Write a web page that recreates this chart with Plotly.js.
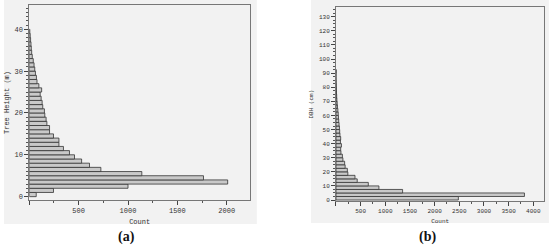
<!DOCTYPE html>
<html>
<head>
<meta charset="utf-8">
<script src="https://cdn.plot.ly/plotly-3.0.1.min.js"></script>
<style>
  html, body { margin: 0; padding: 0; background: #fff; }
  #chart { width: 550px; height: 245px; }
</style>
</head>
<body>
<div id="chart"></div>
<script>
// (a) tree height histogram, 1 m bins
const heightBins = [0.5, 1.5, 2.5, 3.5, 4.5, 5.5, 6.5, 7.5, 8.5, 9.5,
  10.5, 11.5, 12.5, 13.5, 14.5, 15.5, 16.5, 17.5, 18.5, 19.5,
  20.5, 21.5, 22.5, 23.5, 24.5, 25.5, 26.5, 27.5, 28.5, 29.5,
  30.5, 31.5, 32.5, 33.5, 34.5, 35.5, 36.5, 37.5, 38.5, 39.5];
const heightCounts = [70, 245, 1000, 2010, 1765, 1140, 725, 610, 530, 458,
  407, 346, 300, 300, 245, 205, 205, 178, 170, 157,
  153, 136, 130, 120, 110, 125, 97, 78, 72, 62,
  55, 48, 40, 30, 24, 20, 17, 13, 9, 5];

// (b) DBH histogram, 2.5 cm bins
const dbhBins = [1.25, 3.75, 6.25, 8.75, 11.25, 13.75, 16.25, 18.75, 21.25, 23.75,
  26.25, 28.75, 31.25, 33.75, 36.25, 38.75, 41.25, 43.75, 46.25, 48.75,
  51.25, 53.75, 56.25, 58.75, 61.25, 63.75, 66.25, 68.75, 71.25, 73.75,
  76.25, 78.75, 81.25, 83.75, 86.25, 88.75, 91.25];
const dbhCounts = [2480, 3820, 1350, 870, 655, 430, 385, 240, 230, 185,
  175, 140, 130, 100, 95, 110, 90, 95, 80, 75,
  70, 62, 55, 50, 45, 38, 30, 24, 18, 14,
  10, 8, 5, 2, 0, 0, 3];

const countTicks = [0, 500, 1000, 1500, 2000, 2500, 3000, 3500, 4000];
const countLabels = ["", "500", "1000", "1500", "2000", "2500", "3000", "3500", "4000"];

const smallFont = { family: "Liberation Mono, DejaVu Sans Mono, monospace", size: 7, color: "#333" };
const tinyFont = Object.assign({}, smallFont, { size: 6 });
const barStyle = { color: "#c9c9c9", line: { color: "#333", width: 0.8 } };
const panelFont = { family: "Liberation Serif, DejaVu Serif, serif", size: 14, color: "#111", weight: "bold" };

const traceA = {
  type: "bar", orientation: "h",
  x: heightCounts, y: heightBins, width: 1,
  marker: barStyle, xaxis: "x", yaxis: "y",
};
const traceB = {
  type: "bar", orientation: "h",
  x: dbhCounts, y: dbhBins, width: 2.5,
  marker: barStyle, xaxis: "x2", yaxis: "y2",
};

const axisBase = {
  showline: true, mirror: true, linecolor: "#777", linewidth: 1,
  showgrid: false, zeroline: false, ticks: "outside", ticklen: 4,
  tickcolor: "#444", tickfont: smallFont,
};

const layout = {
  width: 550, height: 245,
  margin: { l: 0, r: 0, t: 0, b: 0 },
  paper_bgcolor: "#fff", plot_bgcolor: "#fff",
  showlegend: false, bargap: 0,
  xaxis: Object.assign({}, axisBase, {
    domain: [0.0533, 0.4545], range: [0, 2236],
    tickvals: countTicks, ticktext: countLabels,
    minor: { dtick: 250, tick0: 0, ticks: "outside", ticklen: 2, tickcolor: "#555" },
    title: { text: "Count", font: smallFont, standoff: 4 },
    anchor: "y",
  }),
  yaxis: Object.assign({}, axisBase, {
    domain: [0.1837, 0.9796], range: [-0.8, 45.8], dtick: 10, tick0: 0,
    minor: { dtick: 1, tick0: 0, ticks: "outside", ticklen: 2, tickcolor: "#555" },
    title: { text: "Tree Height (m)", font: smallFont, standoff: 4 },
    anchor: "x",
  }),
  xaxis2: Object.assign({}, axisBase, {
    domain: [0.6109, 0.9896], range: [0, 4222],
    tickvals: countTicks, ticktext: countLabels, tickfont: tinyFont,
    minor: { dtick: 250, tick0: 0, ticks: "outside", ticklen: 2, tickcolor: "#555" },
    title: { text: "Count", font: tinyFont, standoff: 4 },
    anchor: "y2",
  }),
  yaxis2: Object.assign({}, axisBase, {
    domain: [0.1796, 0.9702], range: [-0.7, 136.7], dtick: 10, tick0: 0,
    tickfont: tinyFont,
    minor: { dtick: 2.5, tick0: 0, ticks: "outside", ticklen: 2, tickcolor: "#555" },
    title: { text: "DBH (cm)", font: tinyFont, standoff: 4 },
    anchor: "x2",
  }),
  shapes: [
    { type: "rect", xref: "paper", yref: "paper", x0: 0.0073, x1: 0.467, y0: 0.0857, y1: 1,
      fillcolor: "#f2f2f2", line: { width: 0 }, layer: "below" },
    { type: "rect", xref: "paper", yref: "paper", x0: 0.5655, x1: 0.998, y0: 0.0898, y1: 1,
      fillcolor: "#f2f2f2", line: { width: 0 }, layer: "below" },
  ],
  annotations: [
    { text: "(a)", xref: "paper", yref: "paper", x: 0.2309, y: 0.0327, showarrow: false,
      xanchor: "center", yanchor: "middle", font: panelFont },
    { text: "(b)", xref: "paper", yref: "paper", x: 0.778, y: 0.0327, showarrow: false,
      xanchor: "center", yanchor: "middle", font: panelFont },
  ],
};

Plotly.newPlot("chart", [traceA, traceB], layout, { displayModeBar: false, staticPlot: true });
</script>
</body>
</html>
